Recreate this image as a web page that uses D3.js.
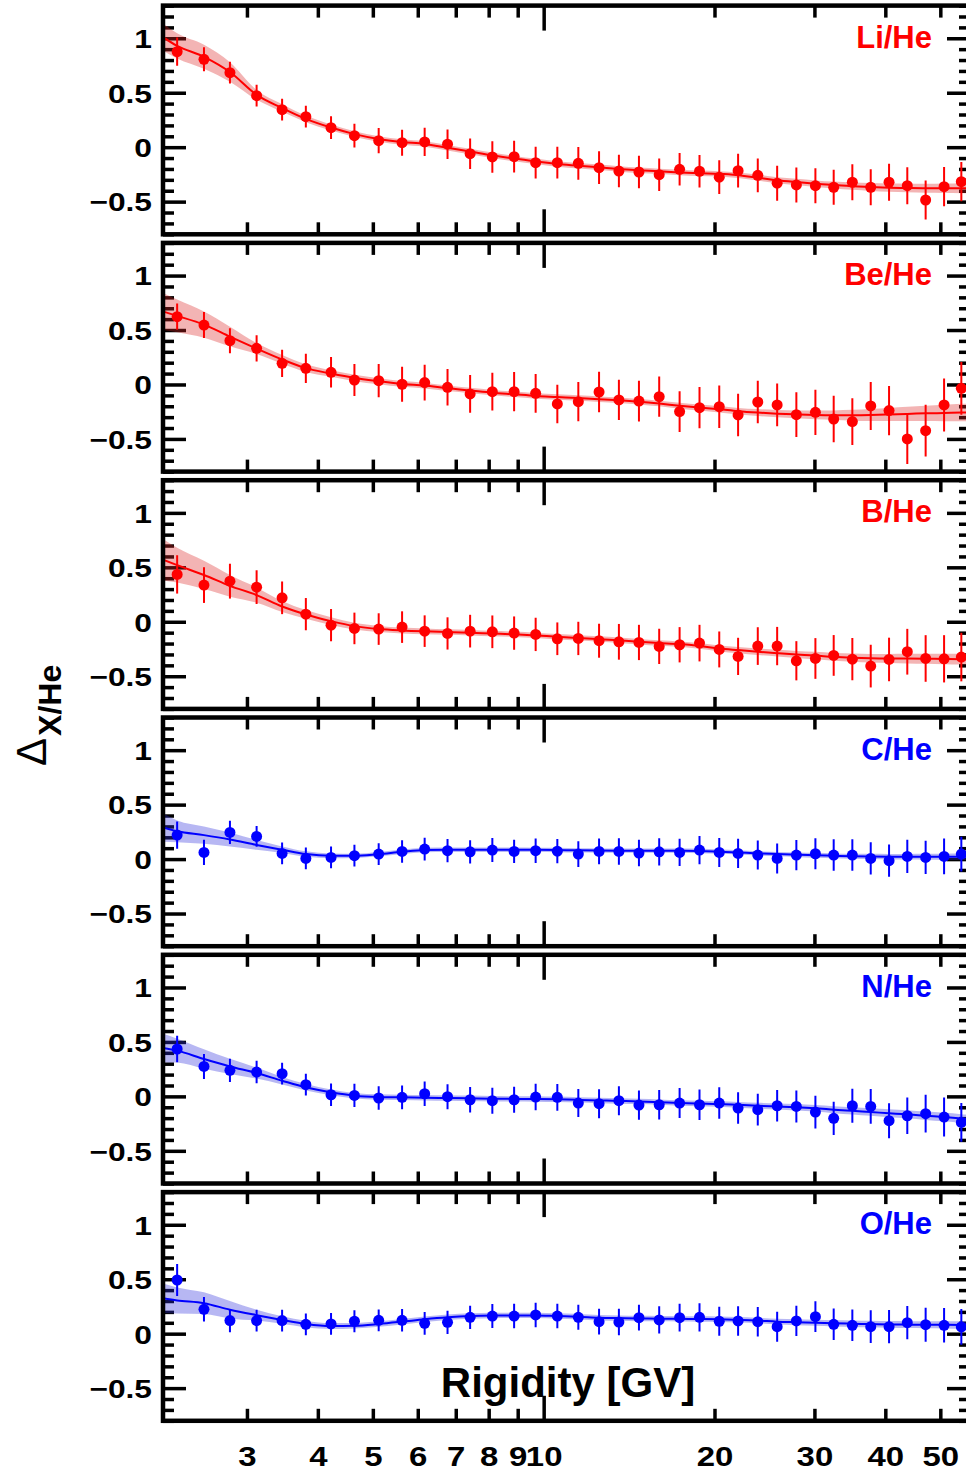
<!DOCTYPE html>
<html>
<head>
<meta charset="utf-8">
<script src="https://cdn.jsdelivr.net/npm/d3@7"></script>
<style>
  body { margin: 0; background: #fff; }
  text { font-family: "Liberation Sans", Arial, Helvetica, sans-serif; }
</style>
</head>
<body>
<div id="chart"></div>
<script>
// Bin centres (GV), shared by all six ratios
const rigidity = [2.26, 2.52, 2.80, 3.12, 3.46, 3.81, 4.22, 4.64, 5.12, 5.63, 6.17, 6.77, 7.42, 8.12, 8.87, 9.68,
  10.57, 11.51, 12.52, 13.57, 14.72, 15.98, 17.36, 18.82, 20.39, 22.01, 23.84, 25.79, 27.88, 30.12, 32.44, 34.99,
  37.70, 40.61, 43.73, 47.11, 50.77, 54.45];
// Fit curve nodes: axis edges plus bin centres
const fitRigidity = [2.134, 2.26, 2.52, 2.80, 3.12, 3.46, 3.81, 4.22, 4.64, 5.12, 5.63, 6.17, 6.77, 7.42, 8.12, 8.87, 9.68,
  10.57, 11.51, 12.52, 13.57, 14.72, 15.98, 17.36, 18.82, 20.39, 22.01, 23.84, 25.79, 27.88, 30.12, 32.44, 34.99,
  37.70, 40.61, 43.73, 47.11, 50.77, 54.45, 56.4];

const xDomain = [2.134, 56.4];
const yDomain = [-0.8, 1.3];
const xMinorTicks = [3, 4, 5, 6, 7, 8, 9, 20, 30, 40, 50];
const xMajorTicks = [10];
const xTickLabels = ['3', '4', '5', '6', '7', '8', '9', '10', '20', '30', '40', '50'];
const xLabelTicks = [3, 4, 5, 6, 7, 8, 9, 10, 20, 30, 40, 50];
const yMajorTicks = [-0.5, 0, 0.5, 1];
const yTickLabels = ['\u22120.5', '0', '0.5', '1'];
const yMinorTicks = [-0.8, -0.7, -0.6, -0.4, -0.3, -0.2, -0.1, 0.1, 0.2, 0.3, 0.4, 0.6, 0.7, 0.8, 0.9, 1.1, 1.2, 1.3];

// Li/He
const liHe = [0.877, 0.807, 0.684, 0.473, 0.344, 0.280, 0.179, 0.106, 0.060, 0.041, 0.048, 0.027, -0.060, -0.090, -0.087, -0.142,
  -0.142, -0.148, -0.188, -0.219, -0.228, -0.253, -0.203, -0.221, -0.276, -0.216, -0.258, -0.331, -0.347, -0.354, -0.368, -0.322,
  -0.368, -0.322, -0.354, -0.485, -0.363, -0.317];
const liHeErr = [0.13, 0.11, 0.10, 0.10, 0.10, 0.10, 0.105, 0.11, 0.115, 0.12, 0.13, 0.135, 0.14, 0.145, 0.145, 0.145,
  0.145, 0.15, 0.15, 0.15, 0.15, 0.15, 0.15, 0.15, 0.155, 0.155, 0.155, 0.16, 0.16, 0.16, 0.16, 0.165,
  0.165, 0.17, 0.17, 0.18, 0.18, 0.18];
const liHeFit = [1.01, 0.93, 0.83, 0.69, 0.48, 0.36, 0.26, 0.18, 0.12, 0.075, 0.048, 0.03, -0.005, -0.04, -0.075, -0.105, -0.13,
  -0.155, -0.17, -0.185, -0.20, -0.212, -0.222, -0.232, -0.24, -0.245, -0.258, -0.28, -0.303, -0.32, -0.335, -0.348, -0.358,
  -0.366, -0.372, -0.375, -0.377, -0.377, -0.377, -0.377];
const liHeBand = [0.125, 0.115, 0.11, 0.09, 0.045, 0.035, 0.03, 0.028, 0.026, 0.025, 0.025, 0.025, 0.025, 0.025, 0.025, 0.025, 0.025,
  0.025, 0.025, 0.025, 0.025, 0.025, 0.025, 0.025, 0.025, 0.025, 0.026, 0.027, 0.028, 0.03, 0.03, 0.032, 0.034,
  0.036, 0.038, 0.04, 0.042, 0.044, 0.046, 0.048];

// Be/He
const beHe = [0.623, 0.546, 0.402, 0.332, 0.194, 0.148, 0.112, 0.041, 0.035, 0.002, 0.017, -0.026, -0.087, -0.066, -0.066, -0.081,
  -0.179, -0.158, -0.069, -0.142, -0.152, -0.112, -0.249, -0.213, -0.204, -0.280, -0.161, -0.188, -0.277, -0.256, -0.317, -0.341,
  -0.197, -0.240, -0.500, -0.424, -0.188, -0.035];
const beHeErr = [0.12, 0.12, 0.115, 0.12, 0.125, 0.135, 0.14, 0.147, 0.153, 0.16, 0.163, 0.168, 0.173, 0.174, 0.18, 0.178,
  0.176, 0.18, 0.187, 0.185, 0.187, 0.185, 0.187, 0.19, 0.195, 0.195, 0.195, 0.196, 0.205, 0.207, 0.214, 0.214,
  0.22, 0.226, 0.23, 0.237, 0.243, 0.242];
const beHeFit = [0.67, 0.63, 0.55, 0.44, 0.33, 0.23, 0.15, 0.10, 0.06, 0.03, 0.005, -0.01, -0.035, -0.055, -0.075, -0.09, -0.105,
  -0.115, -0.125, -0.135, -0.145, -0.158, -0.175, -0.195, -0.212, -0.228, -0.245, -0.258, -0.268, -0.275, -0.28, -0.282, -0.282,
  -0.28, -0.275, -0.27, -0.265, -0.262, -0.258, -0.256];
const beHeBand = [0.17, 0.15, 0.12, 0.09, 0.05, 0.04, 0.035, 0.03, 0.03, 0.028, 0.027, 0.026, 0.025, 0.025, 0.025, 0.025, 0.025,
  0.025, 0.025, 0.025, 0.025, 0.025, 0.026, 0.027, 0.028, 0.03, 0.03, 0.032, 0.034, 0.036, 0.04, 0.044, 0.05,
  0.055, 0.06, 0.065, 0.07, 0.075, 0.08, 0.08];

// B/He
const bHe = [0.435, 0.337, 0.373, 0.318, 0.220, 0.070, -0.031, -0.061, -0.067, -0.049, -0.086, -0.107, -0.086, -0.092, -0.104, -0.116,
  -0.156, -0.153, -0.174, -0.184, -0.190, -0.226, -0.211, -0.196, -0.254, -0.318, -0.223, -0.223, -0.358, -0.337, -0.309, -0.343,
  -0.407, -0.346, -0.275, -0.337, -0.340, -0.324];
const bHeErr = [0.176, 0.164, 0.16, 0.155, 0.15, 0.148, 0.148, 0.145, 0.145, 0.145, 0.145, 0.148, 0.15, 0.15, 0.153, 0.153,
  0.15, 0.153, 0.156, 0.164, 0.162, 0.162, 0.162, 0.168, 0.165, 0.171, 0.173, 0.176, 0.18, 0.187, 0.187, 0.194,
  0.196, 0.2, 0.21, 0.214, 0.217, 0.223];
const bHeFit = [0.57, 0.52, 0.43, 0.33, 0.245, 0.14, 0.067, 0.006, -0.04, -0.067, -0.08, -0.088, -0.094, -0.10, -0.108, -0.115, -0.125,
  -0.138, -0.148, -0.159, -0.17, -0.184, -0.195, -0.205, -0.222, -0.245, -0.26, -0.275, -0.288, -0.30, -0.31, -0.322, -0.33,
  -0.335, -0.337, -0.338, -0.34, -0.341, -0.343, -0.344];
const bHeBand = [0.19, 0.16, 0.13, 0.10, 0.07, 0.05, 0.04, 0.035, 0.03, 0.028, 0.027, 0.026, 0.025, 0.025, 0.025, 0.025, 0.025,
  0.025, 0.025, 0.025, 0.025, 0.025, 0.025, 0.025, 0.026, 0.027, 0.028, 0.03, 0.03, 0.032, 0.034, 0.036, 0.038,
  0.04, 0.042, 0.044, 0.046, 0.048, 0.05, 0.05];

// C/He
const cHe = [0.220, 0.061, 0.245, 0.208, 0.052, 0.006, 0.015, 0.031, 0.046, 0.070, 0.092, 0.077, 0.067, 0.083, 0.070, 0.077,
  0.073, 0.046, 0.070, 0.070, 0.055, 0.067, 0.061, 0.083, 0.061, 0.052, 0.037, 0.006, 0.037, 0.049, 0.037, 0.037,
  0.006, -0.015, 0.024, 0.015, 0.024, 0.046];
const cHeErr = [0.125, 0.116, 0.107, 0.095, 0.1, 0.1, 0.1, 0.1, 0.1, 0.103, 0.104, 0.107, 0.107, 0.11, 0.107, 0.112,
  0.112, 0.118, 0.118, 0.122, 0.122, 0.125, 0.125, 0.13, 0.133, 0.135, 0.133, 0.138, 0.139, 0.142, 0.145, 0.145,
  0.148, 0.148, 0.153, 0.153, 0.164, 0.16];
const cHeFit = [0.29, 0.255, 0.22, 0.18, 0.13, 0.086, 0.046, 0.03, 0.03, 0.046, 0.067, 0.083, 0.086, 0.086, 0.086, 0.086, 0.085,
  0.083, 0.08, 0.078, 0.077, 0.077, 0.077, 0.076, 0.074, 0.068, 0.061, 0.052, 0.046, 0.04, 0.035, 0.03, 0.026,
  0.024, 0.022, 0.021, 0.021, 0.021, 0.021, 0.021];
const cHeBand = [0.13, 0.10, 0.08, 0.065, 0.045, 0.03, 0.025, 0.022, 0.02, 0.02, 0.02, 0.02, 0.02, 0.02, 0.02, 0.02, 0.02,
  0.02, 0.02, 0.02, 0.02, 0.02, 0.02, 0.02, 0.02, 0.02, 0.02, 0.02, 0.02, 0.02, 0.022, 0.022, 0.024,
  0.024, 0.025, 0.026, 0.027, 0.028, 0.03, 0.03];

// N/He
const nHe = [0.435, 0.275, 0.239, 0.223, 0.208, 0.107, 0.015, 0.009, -0.015, -0.009, 0.024, -0.003, -0.031, -0.040, -0.031, -0.006,
  -0.009, -0.061, -0.067, -0.040, -0.080, -0.077, -0.061, -0.077, -0.061, -0.107, -0.122, -0.086, -0.092, -0.144, -0.202, -0.086,
  -0.092, -0.223, -0.178, -0.159, -0.190, -0.239];
const nHeErr = [0.122, 0.115, 0.107, 0.103, 0.1, 0.1, 0.104, 0.106, 0.107, 0.11, 0.112, 0.115, 0.116, 0.12, 0.12, 0.121,
  0.122, 0.128, 0.133, 0.133, 0.135, 0.135, 0.138, 0.14, 0.144, 0.145, 0.145, 0.145, 0.147, 0.15, 0.153, 0.156,
  0.159, 0.161, 0.168, 0.173, 0.179, 0.178];
const nHeFit = [0.444, 0.42, 0.343, 0.275, 0.214, 0.144, 0.083, 0.037, 0.006, -0.006, -0.009, -0.012, -0.015, -0.018, -0.021, -0.023, -0.024,
  -0.027, -0.032, -0.037, -0.042, -0.046, -0.053, -0.061, -0.066, -0.07, -0.078, -0.086, -0.093, -0.1, -0.11, -0.122, -0.133,
  -0.144, -0.155, -0.165, -0.178, -0.19, -0.203, -0.21];
const nHeBand = [0.13, 0.11, 0.09, 0.07, 0.05, 0.035, 0.03, 0.027, 0.025, 0.025, 0.025, 0.025, 0.025, 0.025, 0.025, 0.025, 0.025,
  0.025, 0.025, 0.025, 0.025, 0.025, 0.025, 0.025, 0.025, 0.025, 0.026, 0.027, 0.028, 0.03, 0.03, 0.032, 0.034,
  0.035, 0.036, 0.037, 0.038, 0.039, 0.04, 0.04];

// O/He
const oHe = [0.493, 0.224, 0.120, 0.120, 0.120, 0.086, 0.089, 0.114, 0.123, 0.123, 0.095, 0.104, 0.150, 0.162, 0.162, 0.172,
  0.162, 0.150, 0.110, 0.107, 0.147, 0.126, 0.147, 0.150, 0.114, 0.117, 0.110, 0.064, 0.117, 0.156, 0.086, 0.077,
  0.064, 0.064, 0.101, 0.083, 0.077, 0.062];
const oHeErr = [0.147, 0.112, 0.107, 0.1, 0.1, 0.1, 0.1, 0.1, 0.1, 0.104, 0.104, 0.107, 0.107, 0.11, 0.112, 0.113,
  0.112, 0.115, 0.118, 0.122, 0.118, 0.125, 0.127, 0.13, 0.133, 0.135, 0.135, 0.138, 0.139, 0.141, 0.145, 0.145,
  0.15, 0.153, 0.153, 0.156, 0.158, 0.164];
const oHeFit = [0.325, 0.305, 0.28, 0.22, 0.17, 0.126, 0.089, 0.07, 0.073, 0.089, 0.11, 0.132, 0.15, 0.162, 0.167, 0.168, 0.168,
  0.162, 0.156, 0.147, 0.143, 0.14, 0.138, 0.136, 0.134, 0.132, 0.127, 0.12, 0.11, 0.105, 0.1, 0.095, 0.092,
  0.088, 0.085, 0.083, 0.082, 0.081, 0.08, 0.08];
const oHeBand = [0.135, 0.12, 0.10, 0.08, 0.05, 0.035, 0.03, 0.027, 0.025, 0.025, 0.025, 0.025, 0.025, 0.025, 0.025, 0.025, 0.025,
  0.025, 0.025, 0.025, 0.025, 0.025, 0.025, 0.025, 0.025, 0.025, 0.025, 0.025, 0.026, 0.027, 0.028, 0.029, 0.03,
  0.03, 0.031, 0.032, 0.033, 0.034, 0.035, 0.035];

const RED = '#ff0000', BLUE = '#0000ff';
const panels = [
  { label: 'Li/He', color: RED, values: liHe, errors: liHeErr, fit: liHeFit, band: liHeBand },
  { label: 'Be/He', color: RED, values: beHe, errors: beHeErr, fit: beHeFit, band: beHeBand },
  { label: 'B/He', color: RED, values: bHe, errors: bHeErr, fit: bHeFit, band: bHeBand },
  { label: 'C/He', color: BLUE, values: cHe, errors: cHeErr, fit: cHeFit, band: cHeBand },
  { label: 'N/He', color: BLUE, values: nHe, errors: nHeErr, fit: nHeFit, band: nHeBand },
  { label: 'O/He', color: BLUE, values: oHe, errors: oHeErr, fit: oHeFit, band: oHeBand }
];
const bandFill = { [RED]: 'rgba(220, 40, 40, 0.35)', [BLUE]: 'rgba(50, 50, 220, 0.35)' };

// Layout
const W = 966, H = 1473;
const left = 163, right = 970;
const top0 = 5.6, panelH = 228.7, step = 237.3;
const numStretch = 1.22;   // tick numbers are drawn wider than plain Helvetica

const svg = d3.select('#chart').append('svg')
  .attr('width', W).attr('height', H)
  .attr('viewBox', `0 0 ${W} ${H}`);

svg.append('defs').append('clipPath').attr('id', 'plot-clip')
  .append('rect')
  .attr('x', left).attr('y', 0)
  .attr('width', right - left).attr('height', panelH);

const x = d3.scaleLog().domain(xDomain).range([left, right]);
const y = d3.scaleLinear().domain(yDomain).range([panelH, 0]);

function styleTicks(g) {
  g.select('.domain').remove();
  g.selectAll('.tick line').attr('stroke', '#000').attr('stroke-width', 3.5);
}

panels.forEach((p, i) => {
  const g = svg.append('g').attr('transform', `translate(0,${top0 + i * step})`);

  // ticks on all four sides, pointing inward
  g.append('g').call(d3.axisTop(x).tickValues(xMinorTicks).tickSize(-12).tickFormat('')).call(styleTicks);
  g.append('g').call(d3.axisTop(x).tickValues(xMajorTicks).tickSize(-25).tickFormat('')).call(styleTicks);
  g.append('g').attr('transform', `translate(0,${panelH})`)
    .call(d3.axisBottom(x).tickValues(xMinorTicks).tickSize(-12).tickFormat('')).call(styleTicks);
  g.append('g').attr('transform', `translate(0,${panelH})`)
    .call(d3.axisBottom(x).tickValues(xMajorTicks).tickSize(-25).tickFormat('')).call(styleTicks);

  g.append('g').attr('transform', `translate(${left},0)`)
    .call(d3.axisLeft(y).tickValues(yMinorTicks).tickSize(-11).tickFormat('')).call(styleTicks);
  const yAxis = g.append('g').attr('transform', `translate(${left},0)`)
    .call(d3.axisLeft(y).tickValues(yMajorTicks).tickSize(-23).tickPadding(11)
      .tickFormat((d, k) => yTickLabels[k]))
    .call(styleTicks);
  yAxis.attr('font-family', null).attr('font-size', null);
  yAxis.selectAll('text')
    .attr('x', 0)
    .attr('transform', `translate(-11,0) scale(${numStretch},1)`)
    .style('font-size', '26px').style('font-weight', 'bold').attr('fill', '#000').attr('dy', '0.36em');

  g.append('g').attr('transform', `translate(${right},0)`)
    .call(d3.axisRight(y).tickValues(yMinorTicks).tickSize(-11).tickFormat('')).call(styleTicks);
  g.append('g').attr('transform', `translate(${right},0)`)
    .call(d3.axisRight(y).tickValues(yMajorTicks).tickSize(-23).tickFormat('')).call(styleTicks);

  // data layer
  const data = g.append('g').attr('clip-path', 'url(#plot-clip)');
  const fitPts = fitRigidity.map((r, k) => ({ r, v: p.fit[k], b: p.band[k] }));

  data.append('path')
    .datum(fitPts)
    .attr('fill', bandFill[p.color])
    .attr('d', d3.area().curve(d3.curveMonotoneX)
      .x(d => x(d.r)).y0(d => y(d.v - d.b)).y1(d => y(d.v + d.b)));

  data.append('path')
    .datum(fitPts)
    .attr('fill', 'none')
    .attr('stroke', p.color)
    .attr('stroke-width', 2)
    .attr('d', d3.line().curve(d3.curveMonotoneX).x(d => x(d.r)).y(d => y(d.v)));

  const pts = rigidity.map((r, k) => ({ r, v: p.values[k], e: p.errors[k] }));
  data.selectAll('.err').data(pts).enter().append('line')
    .attr('class', 'err')
    .attr('x1', d => x(d.r)).attr('x2', d => x(d.r))
    .attr('y1', d => y(d.v - d.e)).attr('y2', d => y(d.v + d.e))
    .attr('stroke', p.color).attr('stroke-width', 2);

  data.selectAll('.pt').data(pts).enter().append('circle')
    .attr('class', 'pt')
    .attr('cx', d => x(d.r)).attr('cy', d => y(d.v))
    .attr('r', 5.5)
    .attr('fill', p.color);

  // frame
  g.append('rect')
    .attr('x', left).attr('y', 0)
    .attr('width', right - left).attr('height', panelH)
    .attr('fill', 'none').attr('stroke', '#000').attr('stroke-width', 4.5);

  g.append('text')
    .attr('x', 932).attr('y', 42)
    .attr('text-anchor', 'end')
    .style('font-size', '31px').style('font-weight', 'bold')
    .attr('fill', p.color)
    .text(p.label);

  if (i === panels.length - 1) {
    const xl = g.append('g').attr('transform', `translate(0,${panelH})`)
      .call(d3.axisBottom(x).tickValues(xLabelTicks).tickSize(0).tickPadding(26)
        .tickFormat((d, k) => xTickLabels[k]));
    xl.select('.domain').remove();
    xl.attr('font-family', null).attr('font-size', null);
    xl.selectAll('text')
      .attr('transform', `scale(${numStretch},1)`)
      .style('font-size', '27px').style('font-weight', 'bold').attr('fill', '#000');

    g.append('text')
      .attr('x', 568).attr('y', 1397 - (top0 + i * step))
      .attr('text-anchor', 'middle')
      .style('font-size', '42px').style('font-weight', 'bold')
      .text('Rigidity [GV]');
  }
});

// y-axis title
const yTitle = svg.append('text')
  .attr('transform', 'translate(46,766) rotate(-90)');
yTitle.append('tspan').style('font-size', '42px').text('\u0394');
yTitle.append('tspan').attr('dx', 2).attr('dy', 15)
  .style('font-size', '32px').style('font-weight', 'bold').text('X/He');
</script>
</body>
</html>
